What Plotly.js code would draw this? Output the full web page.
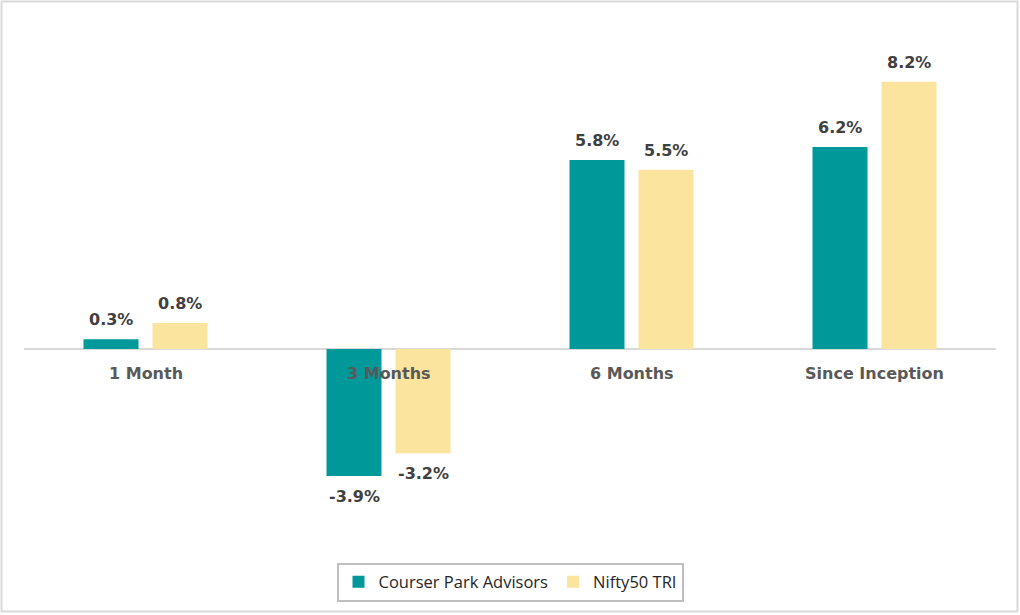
<!DOCTYPE html>
<html>
<head>
<meta charset="utf-8">
<script src="https://cdn.plot.ly/plotly-3.0.1.min.js"></script>
<style>html,body{margin:0;padding:0;background:#fff;}#chart{width:1020px;height:615px;}</style>
</head>
<body>
<div id="chart"></div>
<script>
const categories = ["1 Month", "3 Months", "6 Months", "Since Inception"];
const seriesNames = ["Courser Park Advisors", "Nifty50 TRI"];
const courserValues = [0.3, -3.9, 5.8, 6.2];
const niftyValues = [0.8, -3.2, 5.5, 8.2];
const colors = ["#009999", "#FBE49D"];

const seriesValues = [courserValues, niftyValues];
const traces = seriesValues.map((vals, i) => ({
  type: "bar",
  name: seriesNames[i],
  x: categories,
  y: vals,
  marker: {color: colors[i]},
  hoverinfo: "skip"
}));

const labelFont = {family: "'DejaVu Sans', sans-serif", size: 16, color: "#404040"};
const catFont = {family: "'DejaVu Sans', sans-serif", size: 16, color: "#595959"};
const annotations = [];
seriesValues.forEach((vals, i) => {
  vals.forEach((v, j) => {
    annotations.push({
      x: categories[j], y: v, xref: "x", yref: "y",
      text: "<b>" + v.toFixed(1) + "%</b>",
      showarrow: false,
      xshift: (i === 0 ? -34.5 : 34.5),
      yanchor: v >= 0 ? "bottom" : "top",
      yshift: v >= 0 ? 8 : -9,
      font: labelFont
    });
  });
});
categories.forEach((c) => {
  annotations.push({
    x: c, y: 0, xref: "x", yref: "y",
    text: "<b>" + c + "</b>",
    showarrow: false, yanchor: "top", yshift: -13,
    font: catFont
  });
});

const layout = {
  width: 1020, height: 615,
  margin: {l: 24, r: 24, t: 40, b: 75},
  paper_bgcolor: "#ffffff", plot_bgcolor: "#ffffff",
  barmode: "group", bargap: 0.432, bargroupgap: 0.203,
  showlegend: true,
  legend: {
    orientation: "h", x: 0.5, xanchor: "center", y: -0.045, yanchor: "top",
    bordercolor: "#bfbfbf", borderwidth: 2,
    font: {family: "'Open Sans', 'Noto Sans', sans-serif", size: 16.5, color: "#262626"},
    itemwidth: 30, traceorder: "normal"
  },
  xaxis: {showticklabels: false, showgrid: false, zeroline: false, showline: false, ticks: "", fixedrange: true},
  yaxis: {range: [-5.86, 9.48], showticklabels: false, showgrid: false, zeroline: true,
          zerolinecolor: "#d9d9d9", zerolinewidth: 2, showline: false, ticks: "", fixedrange: true},
  annotations: annotations,
  shapes: [{
    type: "rect", xref: "paper", yref: "paper",
    x0: -0.0231, x1: 1.0221, y0: -0.143, y1: 1.077,
    line: {color: "#d9d9d9", width: 2}, fillcolor: "rgba(0,0,0,0)", layer: "below"
  }]
};

Plotly.newPlot("chart", traces, layout, {displayModeBar: false, staticPlot: true});
</script>
</body>
</html>
